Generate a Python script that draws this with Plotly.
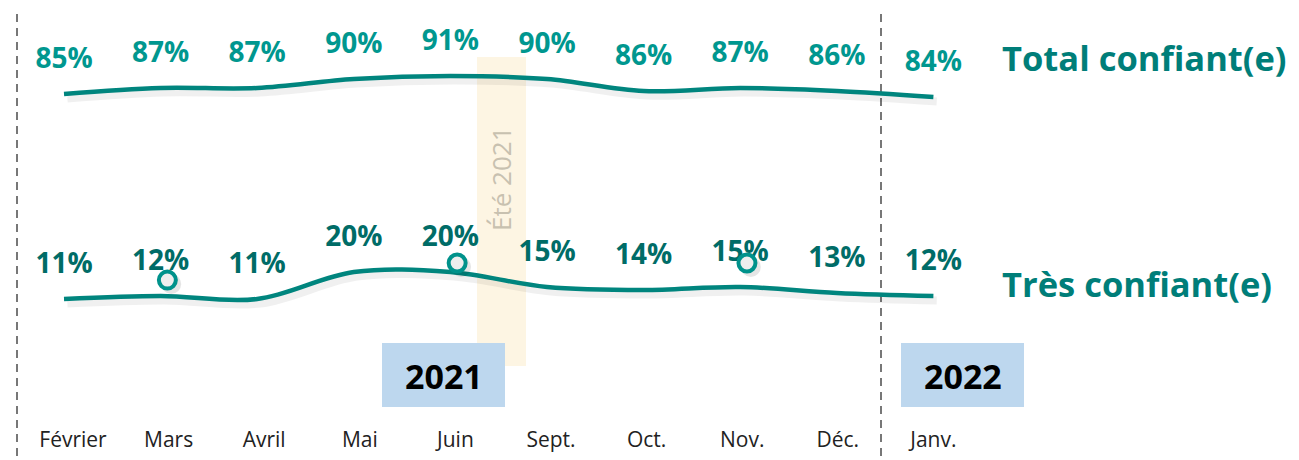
import plotly.graph_objects as go

# ---- data ----
months = ["Février", "Mars", "Avril", "Mai", "Juin", "Sept.", "Oct.", "Nov.", "Déc.", "Janv."]
total_confiant = [85, 87, 87, 90, 91, 90, 86, 87, 86, 84]
tres_confiant = [11, 12, 11, 20, 20, 15, 14, 15, 13, 12]
marker_months = ["Mars", "Juin", "Nov."]
marker_levels = [17.3, 23.0, 23.0]   # decorative circles (in "Très confiant" axis units)
years = ["2021", "2022"]
series_names = ["Total confiant(e)", "Très confiant(e)"]

# ---- styles ----
FONT = "Open Sans"
LINE_C = "#00857E"
TOP_LBL_C = "#00978F"
BOT_LBL_C = "#006C67"
NAME_C = "#007E79"
W, H = 1299, 460
PX_PER_PT = 3.0
x0_px, step_px = 64, 96.6          # data points
tx0_px, tstep_px = 73, 95.6        # month labels
MARKER_DX = 0.07

xi = list(range(len(months)))
mx = [months.index(m) + MARKER_DX for m in marker_months]

def px(v):
    return v / W

def py(v):
    return 1 - v / H

fig = go.Figure()

# invisible trace anchoring the month-label axis
fig.add_trace(go.Scatter(x=xi, y=total_confiant, xaxis="x2", yaxis="y", mode="markers",
                         marker=dict(opacity=0), hoverinfo="skip", showlegend=False))

# shadows
for vals, ax in [(total_confiant, "y"), (tres_confiant, "y2")]:
    fig.add_trace(go.Scatter(
        x=[i + 0.035 for i in xi], y=[v - 1.5 for v in vals], yaxis=ax,
        mode="lines", line=dict(color="rgba(0,0,0,0.06)", width=8, shape="spline"),
        hoverinfo="skip", showlegend=False))

# lines
fig.add_trace(go.Scatter(x=xi, y=total_confiant, yaxis="y", mode="lines",
                         line=dict(color=LINE_C, width=4.5, shape="spline"),
                         name=series_names[0], showlegend=False))
fig.add_trace(go.Scatter(x=xi, y=tres_confiant, yaxis="y2", mode="lines",
                         line=dict(color=LINE_C, width=4.5, shape="spline"),
                         name=series_names[1], showlegend=False))

# value labels
fig.add_trace(go.Scatter(x=xi, y=[v + 11 for v in total_confiant], yaxis="y", mode="text",
                         text=[f"{v}%" for v in total_confiant],
                         textfont=dict(family=FONT, size=28, color=TOP_LBL_C, weight="bold"),
                         textposition="middle center", showlegend=False, hoverinfo="skip"))
fig.add_trace(go.Scatter(x=xi, y=[v + 11 for v in tres_confiant], yaxis="y2", mode="text",
                         text=[f"{v}%" for v in tres_confiant],
                         textfont=dict(family=FONT, size=28, color=BOT_LBL_C, weight="bold"),
                         textposition="middle center", showlegend=False, hoverinfo="skip"))

# decorative circles with shadow
fig.add_trace(go.Scatter(x=[i + 0.04 for i in mx], y=[v - 1.3 for v in marker_levels], yaxis="y2",
                         mode="markers",
                         marker=dict(size=20, color="rgba(0,0,0,0.10)", line=dict(width=0)),
                         showlegend=False, hoverinfo="skip"))
fig.add_trace(go.Scatter(x=mx, y=marker_levels, yaxis="y2", mode="markers",
                         marker=dict(size=17, color="#EEEEEE", line=dict(color="#00928B", width=4)),
                         showlegend=False, hoverinfo="skip"))

shapes = []
# summer band (behind)
shapes.append(dict(type="rect", xref="paper", yref="paper", x0=px(477), x1=px(526),
                   y0=py(366), y1=py(57), fillcolor="#FDF5E3", line=dict(width=0), layer="below"))
# year boxes
for bx in (382, 901):
    shapes.append(dict(type="rect", xref="paper", yref="paper", x0=px(bx), x1=px(bx + 123),
                       y0=py(407), y1=py(343), fillcolor="#BDD7EE", line=dict(width=0), layer="below"))
# dashed separators
for lx in (17, 881):
    shapes.append(dict(type="line", xref="paper", yref="paper", x0=px(lx), x1=px(lx),
                       y0=py(456), y1=py(12), line=dict(color="#777777", width=2, dash="8px,6px"),
                       layer="below"))

annotations = []
for yr, bx in zip(years, (382, 901)):
    annotations.append(dict(xref="paper", yref="paper", x=px(bx + 61.5), y=py(376), text=yr,
                            showarrow=False, xanchor="center", yanchor="middle",
                            font=dict(family=FONT, size=34, color="#000000", weight="bold")))
annotations.append(dict(xref="paper", yref="paper", x=px(501), y=py(179), text="Été 2021",
                        textangle=-90, showarrow=False, xanchor="center", yanchor="middle",
                        font=dict(family=FONT, size=26, color="#C8C1B0")))
for name, yc in zip(series_names, (57, 283)):
    annotations.append(dict(xref="paper", yref="paper", x=px(1000), y=py(yc), text=name,
                            showarrow=False, xanchor="left", yanchor="middle",
                            font=dict(family=FONT, size=34.5, color=NAME_C, weight="bold")))

top_r0 = 85 - (H - 94) / PX_PER_PT
bot_r0 = 11 - (H - 299) / PX_PER_PT
span = H / PX_PER_PT

fig.update_layout(
    width=W, height=H,
    margin=dict(l=0, r=0, t=0, b=0),
    paper_bgcolor="white", plot_bgcolor="white",
    showlegend=False,
    xaxis=dict(range=[-x0_px / step_px, (W - x0_px) / step_px], showticklabels=False,
               ticks="", showgrid=False, zeroline=False, showline=False),
    xaxis2=dict(range=[-tx0_px / tstep_px, (W - tx0_px) / tstep_px], overlaying="x",
                side="bottom", tickmode="array",
                tickvals=xi, ticktext=months, ticklabelposition="inside", ticks="",
                ticklabelstandoff=6,
                tickfont=dict(family=FONT, size=21, color="#222222"),
                showgrid=False, zeroline=False, showline=False),
    yaxis=dict(range=[top_r0, top_r0 + span], visible=False, showgrid=False, zeroline=False),
    yaxis2=dict(range=[bot_r0, bot_r0 + span], overlaying="y", visible=False,
                showgrid=False, zeroline=False),
    shapes=shapes,
    annotations=annotations,
)

fig.write_html("out.html", config={"displayModeBar": False},
               post_script="document.body.style.margin='0';")
